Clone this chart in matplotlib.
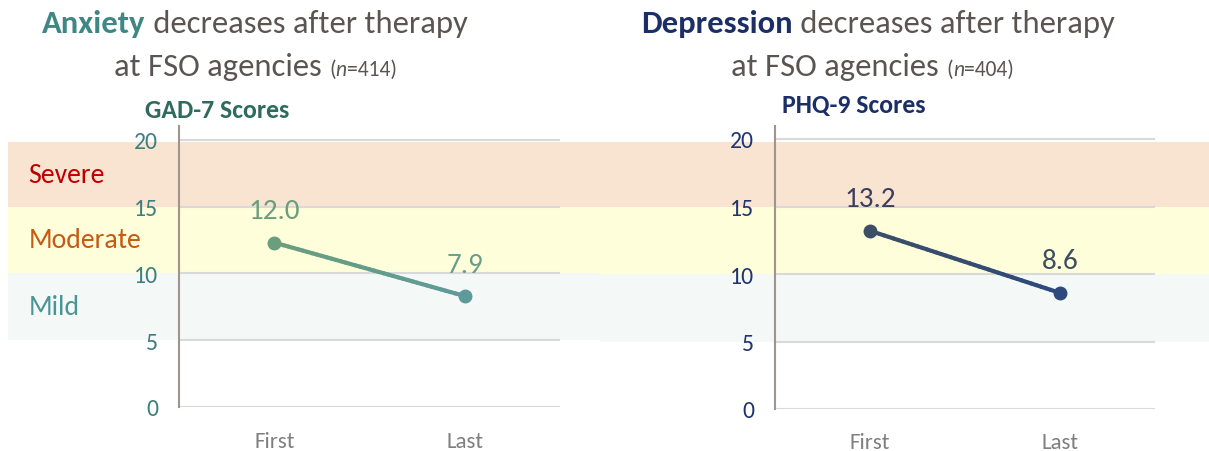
import matplotlib
matplotlib.use('Agg')
import matplotlib.pyplot as plt
import numpy as np
from matplotlib.collections import LineCollection

plt.rcParams['font.family'] = ['Carlito', 'Lato', 'DejaVu Sans']

# data
visits = ['First', 'Last']
gad7_plot = [12.3, 8.3]          # where the points sit in the picture
gad7_labels = ['12.0', '7.9']
phq9_plot = [13.2, 8.6]
phq9_labels = ['13.2', '8.6']
yticks = [0, 5, 10, 15, 20]
bands = [('Severe', 15, 19.8, '#f9e4d2', '#c00000'),
         ('Moderate', 10, 15, '#fefedb', '#c55a11'),
         ('Mild', 5, 10, '#f4f8f7', '#4a9696')]

TITLE_GREY = '#5b5552'
W, H = 1209, 452

fig = plt.figure(figsize=(W / 100, H / 100), dpi=100)


def px(x0, y0, x1, y1):
    # figure pixel box -> axes rect
    return [x0 / W, 1 - y1 / H, (x1 - x0) / W, (y1 - y0) / H]


def title(x, y, bold, bold_col):
    t = fig.text(x / W, 1 - y / H, bold, fontsize=23.5, fontweight='bold',
                 color=bold_col, va='baseline', ha='left')
    plt.annotate(' decreases after therapy', xy=(1, 1 - y / H),
                 xycoords=(t, 'figure fraction'), fontsize=23.5,
                 color=TITLE_GREY, va='baseline', ha='left')


def title_line2(x, y, n):
    t = fig.text(x / W, 1 - y / H, 'at FSO agencies ', fontsize=23.5,
                 color=TITLE_GREY, va='baseline', ha='left')
    t2 = plt.annotate('(', xy=(1, 1 - y / H), xycoords=(t, 'figure fraction'),
                      fontsize=15.5, color=TITLE_GREY, va='baseline', ha='left')
    t3 = plt.annotate('n', xy=(1, 1 - y / H), xycoords=(t2, 'figure fraction'),
                      fontsize=15.5, style='italic', color=TITLE_GREY,
                      va='baseline', ha='left')
    plt.annotate('=' + n + ')', xy=(1, 1 - y / H), xycoords=(t3, 'figure fraction'),
                 fontsize=15.5, color=TITLE_GREY, va='baseline', ha='left')


def panel(rect, values, labels, line_cols, label_cols, tick_col, sub, sub_col,
          sub_xy, band_span, show_band_names, xpad):
    ax = fig.add_axes(rect)
    ax.set_facecolor('none')
    x = np.arange(len(visits))
    ax.set_xlim(-0.5, 1.5)
    ax.set_ylim(0, 21)

    for name, lo, hi, fc, tc in bands:
        ax.axhspan(lo, hi, xmin=band_span[0], xmax=band_span[1], color=fc,
                   lw=0, zorder=0, clip_on=False)
        if show_band_names:
            ax.text(-1.29, (lo + min(hi, 20)) / 2, name, fontsize=20,
                    color=tc, va='center', ha='left')

    for yv in yticks:
        ax.axhline(yv, color='#d9d9d9', lw=1.5, zorder=1)

    # gradient line between the two points
    n = 40
    xs = np.linspace(x[0], x[1], n + 1)
    ys = np.linspace(values[0], values[1], n + 1)
    segs = np.stack([np.column_stack([xs[:-1], ys[:-1]]),
                     np.column_stack([xs[1:], ys[1:]])], axis=1)
    c0 = np.array(matplotlib.colors.to_rgb(line_cols[0]))
    c1 = np.array(matplotlib.colors.to_rgb(line_cols[1]))
    cols = [c0 + (c1 - c0) * t for t in np.linspace(0, 1, n)]
    ax.add_collection(LineCollection(segs, colors=cols, lw=3, zorder=3,
                                     capstyle='round'))
    for i in range(len(x)):
        ax.plot(x[i], values[i], 'o', ms=9, color=line_cols[i], zorder=4)
        ax.annotate(labels[i], (x[i], values[i]), xytext=(0, 23),
                    textcoords='offset points', ha='center', va='center',
                    fontsize=21, color=label_cols[i])

    ax.set_xticks(x)
    ax.set_xticklabels(visits, fontsize=16.5, color='#7f7f7f')
    ax.set_yticks(yticks)
    ax.set_yticklabels([str(v) for v in yticks], fontsize=17, color=tick_col)
    ax.tick_params(axis='y', length=0, pad=15)
    ax.tick_params(axis='x', length=0, pad=xpad)
    for s in ['top', 'right', 'bottom']:
        ax.spines[s].set_visible(False)
    ax.spines['left'].set_color('#a0958a')
    ax.spines['left'].set_linewidth(1.5)
    ax.spines['left'].set_zorder(2)

    fig.text(sub_xy[0] / W, 1 - sub_xy[1] / H, sub, fontsize=18.5,
             fontweight='bold', color=sub_col, va='center', ha='left')
    return ax


panel(px(179, 127.3, 560, 408), gad7_plot, gad7_labels,
      ['#6a9e7c', '#5e9a9a'], ['#6a9e7c', '#6a9e8a'], '#3d7f80',
      'GAD-7 Scores', '#2e6b5e', (145, 110), (-0.449, 1.105), True, 17.5)
panel(px(775, 126.5, 1155, 410), phq9_plot, phq9_labels,
      ['#3c4f66', '#2e4a7c'], ['#3b3f5c', '#3d4f5f'], '#1f3470',
      'PHQ-9 Scores', '#1b2f66', (782, 105), (-0.46, 1.142), False, 16.5)

title(42, 33, 'Anxiety', '#3e8784')
title_line2(114, 76, '414')
title(641, 33, 'Depression', '#1b2f66')
title_line2(731, 76, '404')

fig.savefig('out.png', dpi=100)
